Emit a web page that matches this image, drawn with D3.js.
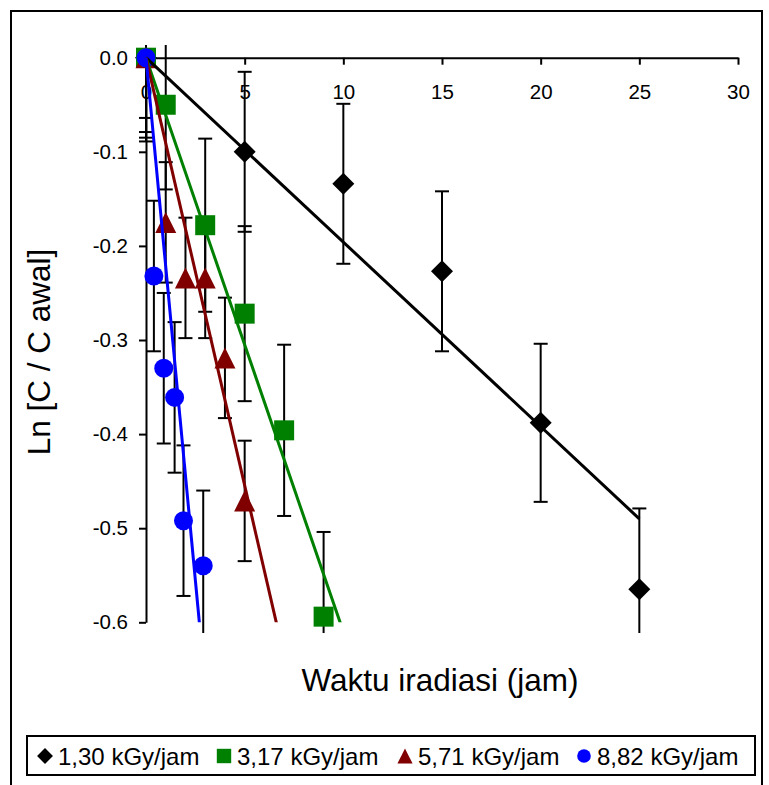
<!DOCTYPE html>
<html>
<head>
<meta charset="utf-8">
<script src="https://cdn.jsdelivr.net/npm/d3@7"></script>
<style>
  body { margin: 0; background: #fff; }
  svg { display: block; font-family: "Liberation Sans", Arial, sans-serif; }
</style>
</head>
<body>
<div id="chart"></div>
<script>
const width = 769;
const height = 785;

// data
const seriesNames = ["1,30 kGy/jam", "3,17 kGy/jam", "5,71 kGy/jam", "8,82 kGy/jam"];
const seriesColors = ["#000000", "#008000", "#800000", "#0000ff"];
const seriesShapes = ["diamond", "square", "triangle", "circle"];

const hours130 = [0, 5, 10, 15, 20, 25];
const ln130 = [0, -0.1, -0.134, -0.227, -0.388, -0.565];
const err130 = [0.085, 0.085, 0.085, 0.085, 0.084, 0.086];

const hours317 = [0, 1, 3, 5, 7, 9];
const ln317 = [0, -0.05, -0.178, -0.272, -0.396, -0.594];
const err317 = [0.089, 0.09, 0.092, 0.093, 0.091, 0.09];

const hours571 = [0, 1, 2, 3, 4, 5];
const ln571 = [0, -0.175, -0.234, -0.234, -0.319, -0.471];
const err571 = [0.064, 0.064, 0.064, 0.064, 0.064, 0.064];

const hours882 = [0, 0.4, 0.9, 1.45, 1.9, 2.9];
const ln882 = [0, -0.232, -0.33, -0.361, -0.492, -0.54];
const err882 = [0.079, 0.08, 0.08, 0.08, 0.08, 0.08];

// linear trend through origin
const trendSlopes = [-0.0196, -0.061, -0.0909, -0.222];
const trendEnds = [25, 10, 7, 3];

const xTicks = [0, 5, 10, 15, 20, 25, 30];
const yTicks = [0, -0.1, -0.2, -0.3, -0.4, -0.5, -0.6];

const series = [
  { x: hours130, y: ln130, e: err130 },
  { x: hours317, y: ln317, e: err317 },
  { x: hours571, y: ln571, e: err571 },
  { x: hours882, y: ln882, e: err882 }
].map((s, i) => ({
  name: seriesNames[i],
  color: seriesColors[i],
  shape: seriesShapes[i],
  slope: trendSlopes[i],
  xEnd: trendEnds[i],
  points: s.x.map((v, j) => ({ x: v, y: s.y[j], e: s.e[j] }))
}));

const x = d3.scaleLinear().domain([0, 30]).range([146, 738]);
const y = d3.scaleLinear().domain([-0.6, 0]).range([622.3, 57.7]);

const svg = d3.select("#chart")
  .append("svg")
  .attr("width", width)
  .attr("height", height);

// outer frame
svg.append("rect")
  .attr("x", 11).attr("y", 11)
  .attr("width", 751).attr("height", 800)
  .attr("fill", "none")
  .attr("stroke", "#000")
  .attr("stroke-width", 2);

const defs = svg.append("defs");
defs.append("clipPath").attr("id", "clipLines")
  .append("rect")
  .attr("x", x(0) - 2).attr("y", y(0) - 2)
  .attr("width", x(30) - x(0) + 4).attr("height", y(-0.6) - y(0) + 2);
defs.append("clipPath").attr("id", "clipBars")
  .append("rect")
  .attr("x", 0).attr("y", 45)
  .attr("width", width).attr("height", 633 - 45);

function markerPath(shape) {
  if (shape === "diamond") return "M0,-11L11,0L0,11L-11,0Z";
  if (shape === "square") return "M-10,-10H10V10H-10Z";
  if (shape === "triangle") return "M0,-10.5L10.5,10.5L-10.5,10.5Z";
  return d3.symbol(d3.symbolCircle, Math.PI * 9.5 * 9.5)();
}

// axes
const xAxis = svg.append("g")
  .attr("transform", `translate(0,${y(0)})`)
  .call(d3.axisBottom(x).tickValues(xTicks).tickSize(7).tickSizeOuter(0).tickPadding(20));

const yAxis = svg.append("g")
  .attr("transform", `translate(${x(0)},0)`)
  .call(d3.axisLeft(y).tickValues(yTicks).tickSize(7).tickSizeOuter(0).tickPadding(11)
    .tickFormat(d => d.toFixed(1)));

[xAxis, yAxis].forEach(g => {
  g.selectAll("path, line").attr("stroke", "#000").attr("stroke-width", 2);
  g.selectAll("text")
    .attr("fill", "#000")
    .style("font-size", "20.5px")
    .style("font-family", "'Liberation Sans', Arial, sans-serif");
});

// error bars
const bars = svg.append("g").attr("clip-path", "url(#clipBars)");
series.forEach(s => {
  const g = bars.append("g");
  s.points.forEach(p => {
    const top = y(p.y + p.e), bot = y(p.y - p.e), cx = x(p.x);
    g.append("line").attr("x1", cx).attr("x2", cx).attr("y1", top).attr("y2", bot);
    g.append("line").attr("x1", cx - 7).attr("x2", cx + 7).attr("y1", top).attr("y2", top);
    g.append("line").attr("x1", cx - 7).attr("x2", cx + 7).attr("y1", bot).attr("y2", bot);
  });
  g.selectAll("line").attr("stroke", "#000").attr("stroke-width", 2);
});

// markers
const marks = svg.append("g");
series.forEach(s => {
  marks.append("g")
    .selectAll("path")
    .data(s.points)
    .join("path")
    .attr("d", markerPath(s.shape))
    .attr("transform", d => `translate(${x(d.x)},${y(d.y)})`)
    .attr("fill", s.color);
});

// trend lines
const trend = svg.append("g").attr("clip-path", "url(#clipLines)");
const line = d3.line().x(d => x(d[0])).y(d => y(d[1]));
series.forEach(s => {
  trend.append("path")
    .attr("d", line([[0, 0], [s.xEnd, s.slope * s.xEnd]]))
    .attr("fill", "none")
    .attr("stroke", s.color)
    .attr("stroke-width", 3);
});

// axis titles
svg.append("text")
  .attr("x", 440).attr("y", 691)
  .attr("text-anchor", "middle")
  .style("font-size", "31.5px")
  .text("Waktu iradiasi (jam)");

svg.append("text")
  .attr("transform", "translate(50,352) rotate(-90)")
  .attr("text-anchor", "middle")
  .style("font-size", "31.5px")
  .text("Ln [C / C awal]");

// legend
const legend = svg.append("g");
legend.append("rect")
  .attr("x", 27).attr("y", 736)
  .attr("width", 728).attr("height", 39)
  .attr("fill", "#fff")
  .attr("stroke", "#000")
  .attr("stroke-width", 2);

const legendX = [45, 224, 405, 584];
series.forEach((s, i) => {
  const item = legend.append("g").attr("transform", `translate(${legendX[i]},756)`);
  item.append("path")
    .attr("d", markerPath(s.shape))
    .attr("transform", "scale(0.72)")
    .attr("fill", s.color);
  item.append("text")
    .attr("x", 13).attr("y", 8.5)
    .style("font-size", "24px")
    .text(s.name);
});
</script>
</body>
</html>
